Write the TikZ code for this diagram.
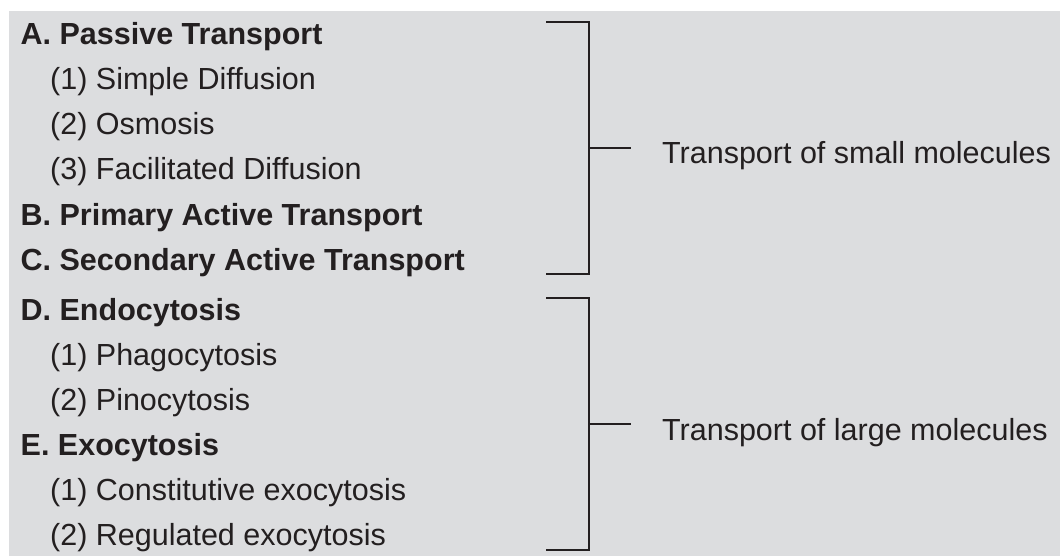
\documentclass[tikz,border=0pt]{standalone}
\usepackage{fontspec}
\setmainfont{Liberation Sans}
\usetikzlibrary{positioning}
\definecolor{panel}{HTML}{DCDDDF}
\definecolor{ink}{HTML}{231F20}

\begin{document}
\begin{tikzpicture}[x=1pt,y=1pt,
    every node/.style={inner sep=0pt,anchor=base west,text=ink,font=\fontsize{30.5}{36}\selectfont},
    head/.style={font=\fontsize{30.5}{36}\selectfont\bfseries},
    brace/.style={draw=ink,line width=2pt}]
    \useasboundingbox (0,0) rectangle (1060,-556);
    \fill[panel] (9,-11) rectangle (1060,-556);

    % small molecules
    \node[head] (passive) at (20.5,-44.5) {A. Passive Transport};
    \node (simple) at (50,-89.6) {(1) Simple Diffusion};
    \node (osmosis) at (50,-134.8) {(2) Osmosis};
    \node (facil) at (50,-180) {(3) Facilitated Diffusion};
    \node[head] (primary) at (20.5,-225.1) {B. Primary Active Transport};
    \node[head] (secondary) at (20.5,-270.3) {C. Secondary Active Transport};

    % large molecules
    \node[head] (endo) at (20.5,-320) {D. Endocytosis};
    \node (phago) at (50,-365.2) {(1) Phagocytosis};
    \node (pino) at (50,-410.4) {(2) Pinocytosis};
    \node[head] (exo) at (20.5,-455.6) {E. Exocytosis};
    \node (const) at (50,-500.7) {(1) Constitutive exocytosis};
    \node (regul) at (50,-545.9) {(2) Regulated exocytosis};

    \node (small) at (662,-164) {Transport of small molecules};
    \node (large) at (662,-440) {Transport of large molecules};

    % brackets
    \coordinate (smtop) at (588.5,-22.3);
    \coordinate (smbot) at (588.5,-274.3);
    \coordinate (smmid) at (588.5,-148.3);
    \coordinate (smtick) at (631,-148.3);
    \draw[brace] ([xshift=-42.5pt]smtop) -- (smtop) -- (smbot) -- ([xshift=-42.5pt]smbot);
    \draw[brace] (smmid) -- (smtick);

    \coordinate (lgtop) at (588.5,-298.3);
    \coordinate (lgbot) at (588.5,-550.3);
    \coordinate (lgmid) at (588.5,-424.3);
    \coordinate (lgtick) at (631,-424.3);
    \draw[brace] ([xshift=-42.5pt]lgtop) -- (lgtop) -- (lgbot) -- ([xshift=-42.5pt]lgbot);
    \draw[brace] (lgmid) -- (lgtick);
\end{tikzpicture}
\end{document}
